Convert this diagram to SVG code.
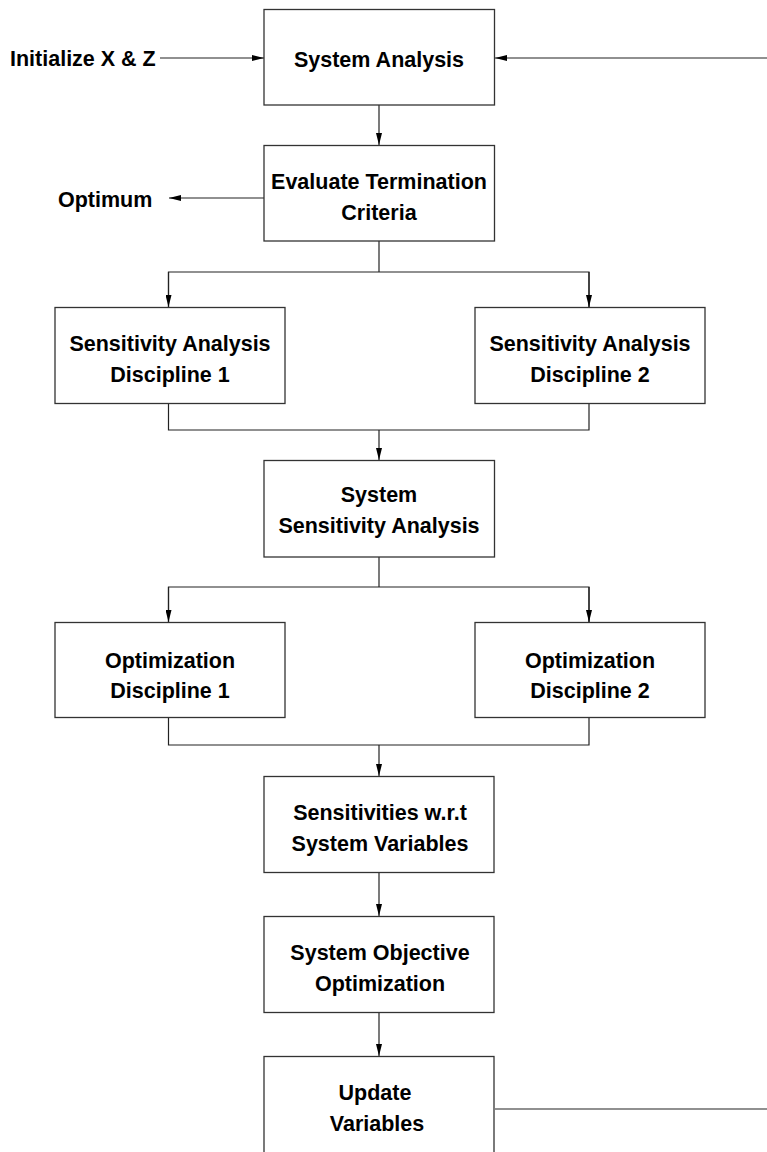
<svg xmlns="http://www.w3.org/2000/svg" width="767" height="1152" viewBox="0 0 767 1152">
<style>
.box{fill:#fff;stroke:#333;stroke-width:1.3}
.t{font-family:"Liberation Sans",Arial,sans-serif;font-weight:bold;font-size:21.5px;fill:#000;text-anchor:middle}
.tl{font-family:"Liberation Sans",Arial,sans-serif;font-weight:bold;font-size:21.5px;fill:#000}
.c{fill:none;stroke:#222;stroke-width:1.2}
</style>
<defs>
<marker id="ah" viewBox="0 0 12 6" refX="12" refY="3" markerWidth="12" markerHeight="6" markerUnits="userSpaceOnUse" orient="auto">
<path d="M0,0 L12,3 L0,6 Z" fill="#000"/>
</marker>
</defs>
<rect width="767" height="1152" fill="#fff"/>
<g id="connectors">
<line class="c" x1="160" y1="58" x2="264" y2="58" marker-end="url(#ah)"/>
<line class="c" x1="767" y1="58" x2="495" y2="58" marker-end="url(#ah)"/>
<line class="c" x1="379" y1="105" x2="379" y2="145" marker-end="url(#ah)"/>
<line class="c" x1="264" y1="198" x2="169" y2="198" marker-end="url(#ah)"/>
<polyline class="c" points="379,241 379,272"/>
<polyline class="c" points="168.5,307 168.5,272 589,272 589,307"/>
<line class="c" x1="168.5" y1="272" x2="168.5" y2="307" marker-end="url(#ah)"/>
<line class="c" x1="589" y1="272" x2="589" y2="307" marker-end="url(#ah)"/>
<polyline class="c" points="168.5,403 168.5,430 589,430 589,403"/>
<line class="c" x1="379" y1="430" x2="379" y2="460" marker-end="url(#ah)"/>
<polyline class="c" points="379,557 379,587"/>
<polyline class="c" points="168.5,622 168.5,587 589,587 589,622"/>
<line class="c" x1="168.5" y1="587" x2="168.5" y2="622" marker-end="url(#ah)"/>
<line class="c" x1="589" y1="587" x2="589" y2="622" marker-end="url(#ah)"/>
<polyline class="c" points="168.5,717 168.5,745 589,745 589,717"/>
<line class="c" x1="379" y1="745" x2="379" y2="776" marker-end="url(#ah)"/>
<line class="c" x1="379" y1="872" x2="379" y2="916" marker-end="url(#ah)"/>
<line class="c" x1="379" y1="1012" x2="379" y2="1056" marker-end="url(#ah)"/>
<line class="c" x1="495" y1="1109" x2="767" y2="1109"/>
</g>
<g id="init"><text class="tl" x="10" y="66">Initialize X &amp; Z</text></g>
<g id="optimum"><text class="tl" x="58" y="207">Optimum</text></g>
<g id="system-analysis">
<rect class="box" x="264" y="9.5" width="230.5" height="95.5"/>
<text class="t" x="379" y="67">System Analysis</text>
</g>
<g id="evaluate">
<rect class="box" x="264" y="145.5" width="230.5" height="95.5"/>
<text class="t" x="379" y="189">Evaluate Termination</text>
<text class="t" x="379" y="220">Criteria</text>
</g>
<g id="sens-d1">
<rect class="box" x="55" y="307.5" width="230" height="96"/>
<text class="t" x="170" y="351">Sensitivity Analysis</text>
<text class="t" x="170" y="382">Discipline 1</text>
</g>
<g id="sens-d2">
<rect class="box" x="475" y="307.5" width="230" height="96"/>
<text class="t" x="590" y="351">Sensitivity Analysis</text>
<text class="t" x="590" y="382">Discipline 2</text>
</g>
<g id="system-sens">
<rect class="box" x="264" y="460.5" width="230.5" height="96.5"/>
<text class="t" x="379" y="502">System</text>
<text class="t" x="379" y="533">Sensitivity Analysis</text>
</g>
<g id="opt-d1">
<rect class="box" x="55" y="622.5" width="230" height="95"/>
<text class="t" x="170" y="668">Optimization</text>
<text class="t" x="170" y="698">Discipline 1</text>
</g>
<g id="opt-d2">
<rect class="box" x="475" y="622.5" width="230" height="95"/>
<text class="t" x="590" y="668">Optimization</text>
<text class="t" x="590" y="698">Discipline 2</text>
</g>
<g id="sens-wrt">
<rect class="box" x="264" y="776.5" width="230" height="96"/>
<text class="t" x="380" y="820">Sensitivities w.r.t</text>
<text class="t" x="380" y="851">System Variables</text>
</g>
<g id="sys-obj">
<rect class="box" x="264" y="916.5" width="230" height="96"/>
<text class="t" x="380" y="960">System Objective</text>
<text class="t" x="380" y="991">Optimization</text>
</g>
<g id="update">
<rect class="box" x="264" y="1056.5" width="230" height="110"/>
<text class="t" x="375" y="1100">Update</text>
<text class="t" x="377" y="1131">Variables</text>
</g>
</svg>
